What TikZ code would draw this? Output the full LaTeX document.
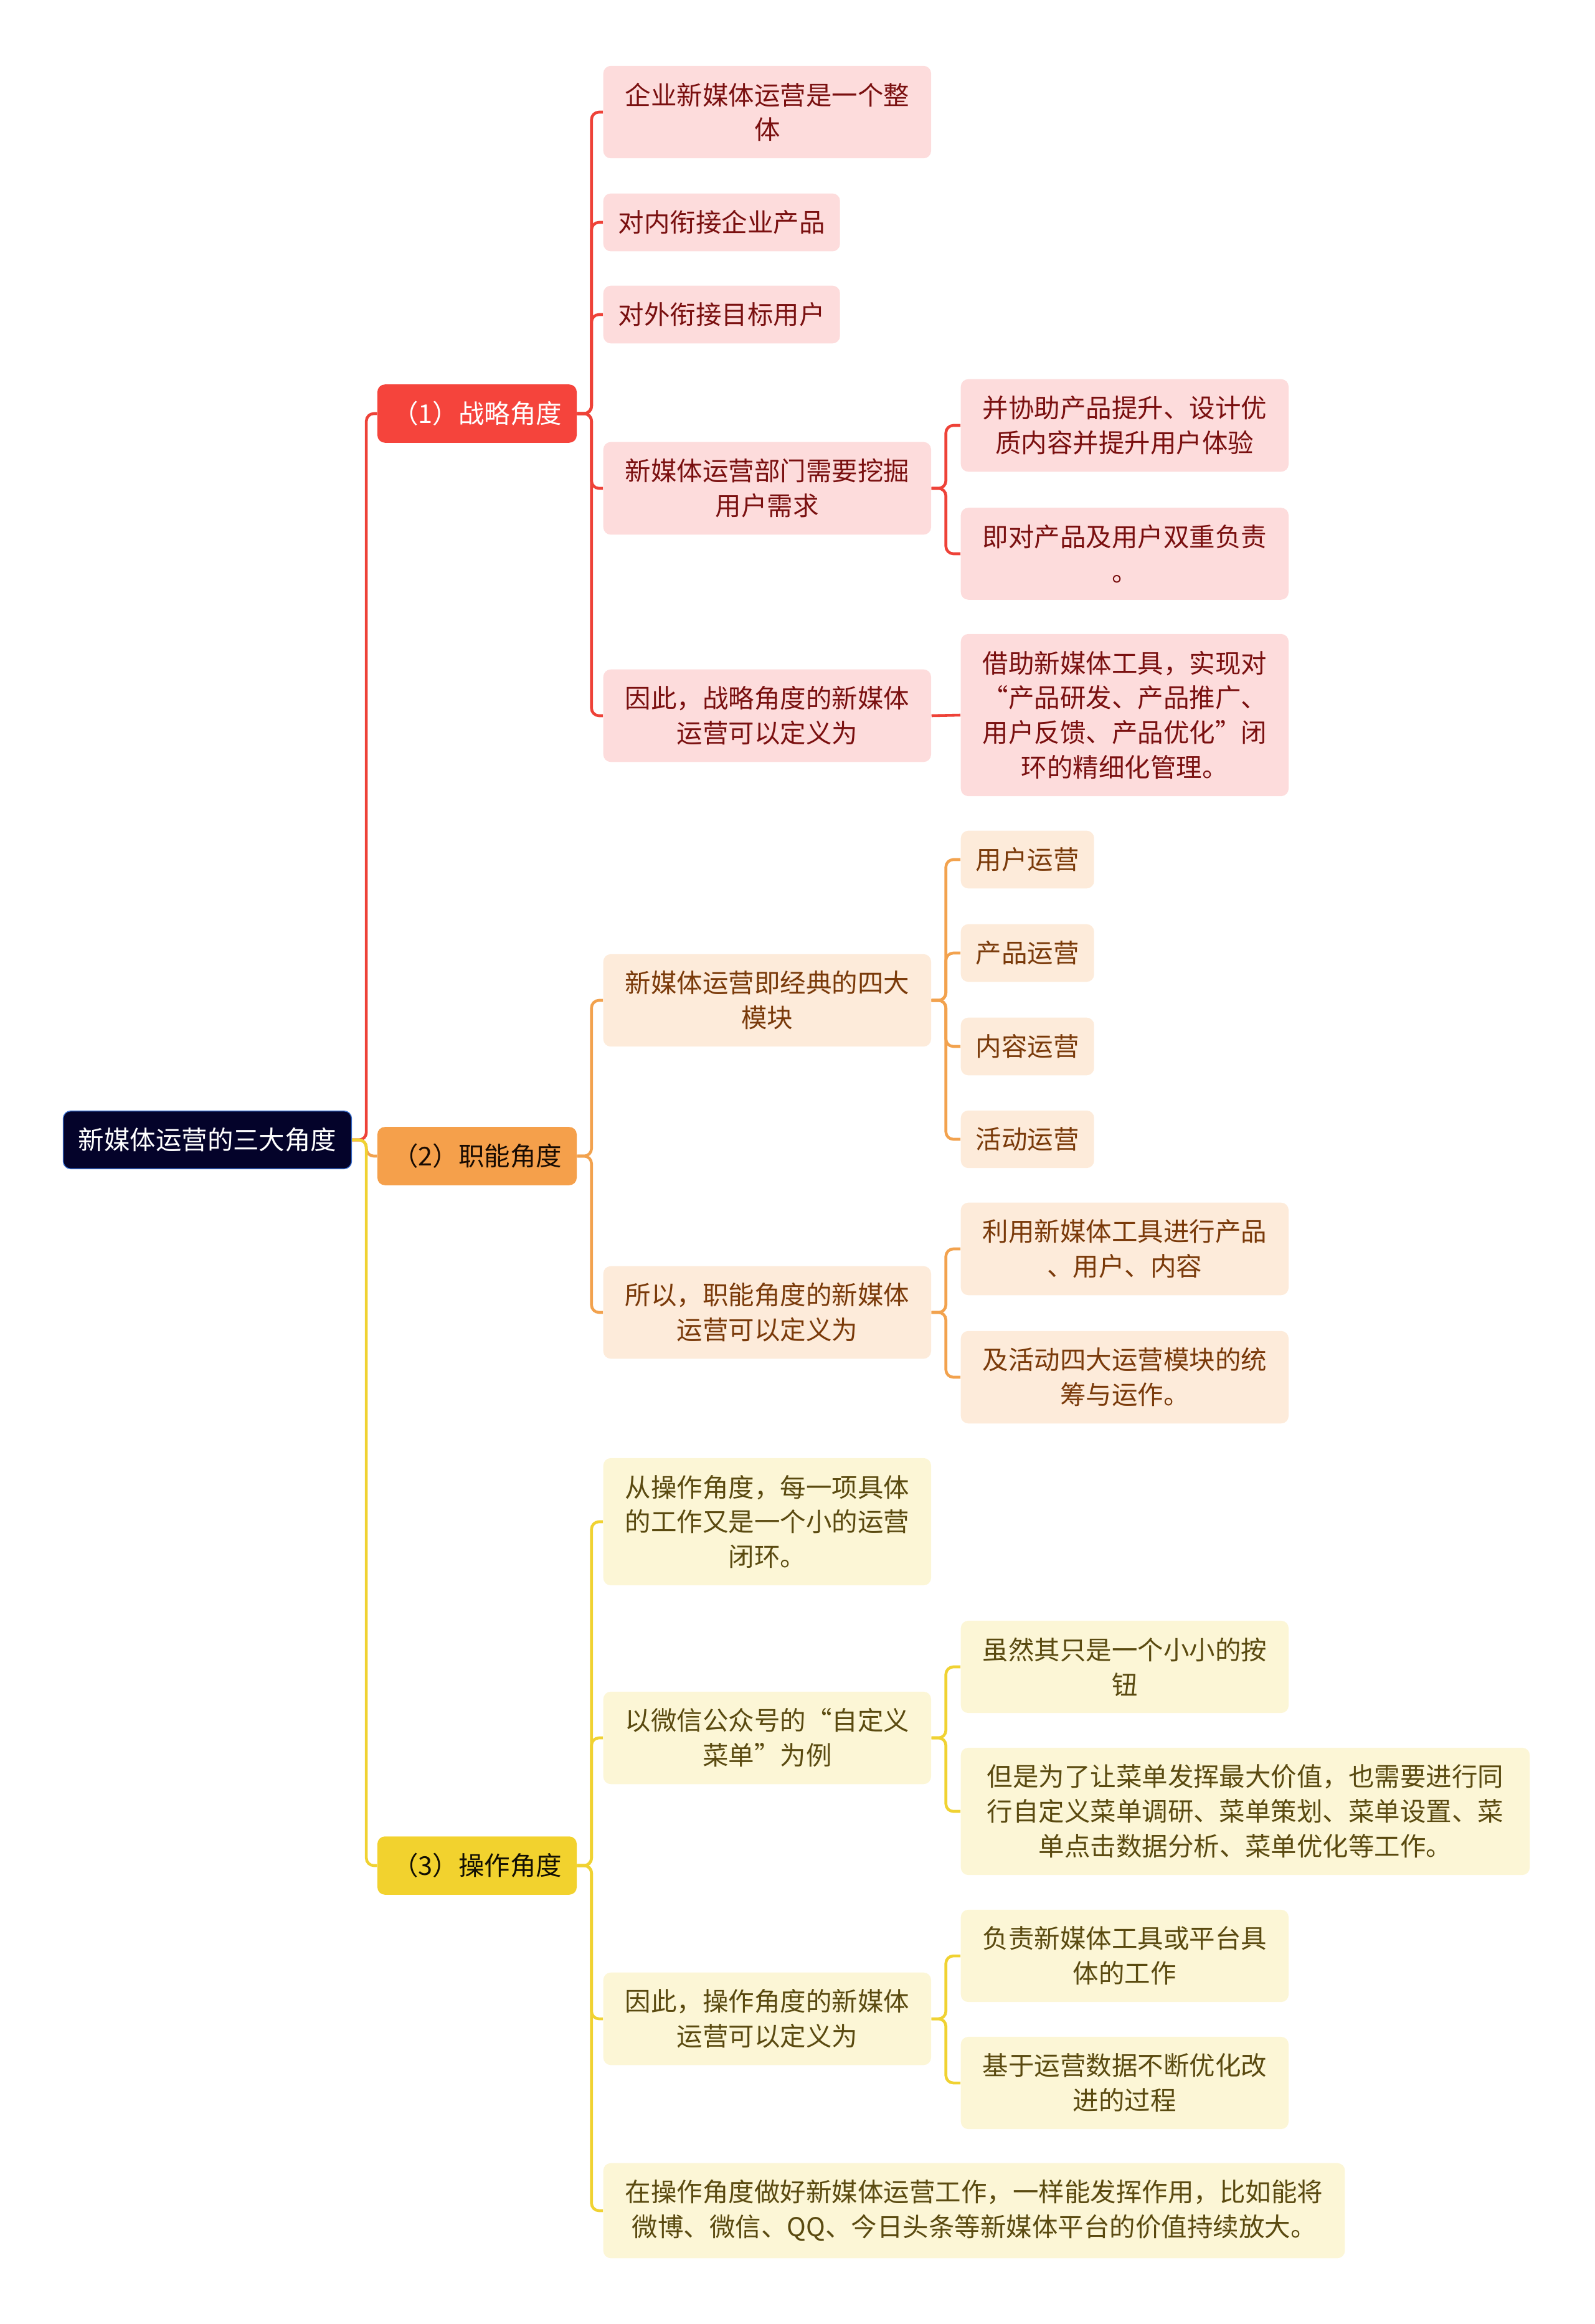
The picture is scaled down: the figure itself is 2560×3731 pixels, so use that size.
\documentclass[tikz,border=0pt]{standalone}
\usepackage{fontspec}
\setmainfont{Noto Sans CJK SC}
\usetikzlibrary{positioning}
\definecolor{rootfill}{HTML}{04032A}
\definecolor{rootline}{HTML}{3A6FD0}
\definecolor{redmain}{HTML}{F5443C}
\definecolor{redsoft}{HTML}{FDDCDC}
\definecolor{redtext}{HTML}{7A1010}
\definecolor{redline}{HTML}{EE4238}
\definecolor{orgmain}{HTML}{F5A04B}
\definecolor{orgsoft}{HTML}{FDEBDA}
\definecolor{orgtext}{HTML}{7A3A0A}
\definecolor{orgline}{HTML}{F2A24E}
\definecolor{ylwmain}{HTML}{F2D22E}
\definecolor{ylwsoft}{HTML}{FCF6D6}
\definecolor{ylwtext}{HTML}{5A4A10}
\definecolor{ylwline}{HTML}{F0D232}

\begin{document}
\begin{tikzpicture}[x=0.01cm, y=-0.01cm,
    box/.style={rounded corners=0.12cm, inner xsep=0.24cm, inner ysep=0.27cm, align=center,
      font=\fontsize{11.8}{15.9}\selectfont},
    wrap/.style={text width=4.78cm},
    head/.style={box, minimum width=3.14cm},
    leaf/.style={box, anchor=west},
    redleaf/.style={leaf, fill=redsoft, text=redtext},
    orgleaf/.style={leaf, fill=orgsoft, text=orgtext},
    ylwleaf/.style={leaf, fill=ylwsoft, text=ylwtext},
    link/.style={line width=1.3pt, rounded corners=0.12cm},
    redlink/.style={link, draw=redline},
    orglink/.style={link, draw=orgline},
    ylwlink/.style={link, draw=ylwline}]
    \useasboundingbox (0,0) rectangle (2560,3731);

    % Root
    \node[box, fill=rootfill, draw=rootline, line width=0.4pt, text=white, minimum width=4.57cm] (root) at (333,1830) {新媒体运营的三大角度};

    % Heads
    \node[head, fill=redmain, text=white] (strat) at (766,664) {（1）战略角度};
    \node[head, fill=orgmain, text=black!80!orgtext] (func) at (766,1856) {（2）职能角度};
    \node[head, fill=ylwmain, text=black!80!ylwtext] (oper) at (766,2995) {（3）操作角度};

    % Strategy branch
    \node[redleaf, wrap] (s1) at (968,180) {企业新媒体运营是一个整\\体};
    \node[redleaf] (s2) at (968,357) {对内衔接企业产品};
    \node[redleaf] (s3) at (968,505) {对外衔接目标用户};
    \node[redleaf, wrap] (s4) at (968,784) {新媒体运营部门需要挖掘\\用户需求};
    \node[redleaf, wrap] (s5) at (968,1149) {因此，战略角度的新媒体\\运营可以定义为};
    \node[redleaf, wrap] (s41) at (1542,683) {并协助产品提升、设计优\\质内容并提升用户体验};
    \node[redleaf, wrap] (s42) at (1542,889) {即对产品及用户双重负责\\。};
    \node[redleaf, wrap] (s51) at (1542,1148) {借助新媒体工具，实现对\\“产品研发、产品推广、\\用户反馈、产品优化”闭\\环的精细化管理。};

    % Function branch
    \node[orgleaf, wrap] (f1) at (968,1606) {新媒体运营即经典的四大\\模块};
    \node[orgleaf, wrap] (f2) at (968,2107) {所以，职能角度的新媒体\\运营可以定义为};
    \node[orgleaf] (f11) at (1542,1380) {用户运营};
    \node[orgleaf] (f12) at (1542,1530) {产品运营};
    \node[orgleaf] (f13) at (1542,1680) {内容运营};
    \node[orgleaf] (f14) at (1542,1829) {活动运营};
    \node[orgleaf, wrap] (f21) at (1542,2005) {利用新媒体工具进行产品\\、用户、内容};
    \node[orgleaf, wrap] (f22) at (1542,2211) {及活动四大运营模块的统\\筹与运作。};

    % Operation branch
    \node[ylwleaf, wrap] (o1) at (968,2443) {从操作角度，每一项具体\\的工作又是一个小的运营\\闭环。};
    \node[ylwleaf, wrap] (o2) at (968,2790) {以微信公众号的“自定义\\菜单”为例};
    \node[ylwleaf, wrap] (o3) at (968,3241) {因此，操作角度的新媒体\\运营可以定义为};
    \node[ylwleaf, text width=11.42cm] (o4) at (968,3549) {在操作角度做好新媒体运营工作，一样能发挥作用，比如能将\\微博、微信、QQ、今日头条等新媒体平台的价值持续放大。};
    \node[ylwleaf, wrap] (o21) at (1542,2676) {虽然其只是一个小小的按\\钮};
    \node[ylwleaf, text width=8.65cm] (o22) at (1542,2908) {但是为了让菜单发挥最大价值，也需要进行同\\行自定义菜单调研、菜单策划、菜单设置、菜\\单点击数据分析、菜单优化等工作。};
    \node[ylwleaf, wrap] (o31) at (1542,3140) {负责新媒体工具或平台具\\体的工作};
    \node[ylwleaf, wrap] (o32) at (1542,3344) {基于运营数据不断优化改\\进的过程};

    % Links
    \draw[redlink] (root.east) -- ++(23,0) |- (strat.west);
    \foreach \c in {s1,s2,s3,s4,s5}
      \draw[redlink] (strat.east) -- ++(23,0) |- (\c.west);
    \foreach \c in {s41,s42}
      \draw[redlink] (s4.east) -- ++(23,0) |- (\c.west);
    \draw[redlink] (s5.east) -- (s51.west);

    \draw[orglink] (root.east) -- ++(23,0) |- (func.west);
    \foreach \c in {f1,f2}
      \draw[orglink] (func.east) -- ++(23,0) |- (\c.west);
    \foreach \c in {f11,f12,f13,f14}
      \draw[orglink] (f1.east) -- ++(23,0) |- (\c.west);
    \foreach \c in {f21,f22}
      \draw[orglink] (f2.east) -- ++(23,0) |- (\c.west);

    \draw[ylwlink] (root.east) -- ++(23,0) |- (oper.west);
    \foreach \c in {o1,o2,o3,o4}
      \draw[ylwlink] (oper.east) -- ++(23,0) |- (\c.west);
    \foreach \c in {o21,o22}
      \draw[ylwlink] (o2.east) -- ++(23,0) |- (\c.west);
    \foreach \c in {o31,o32}
      \draw[ylwlink] (o3.east) -- ++(23,0) |- (\c.west);
\end{tikzpicture}
\end{document}
